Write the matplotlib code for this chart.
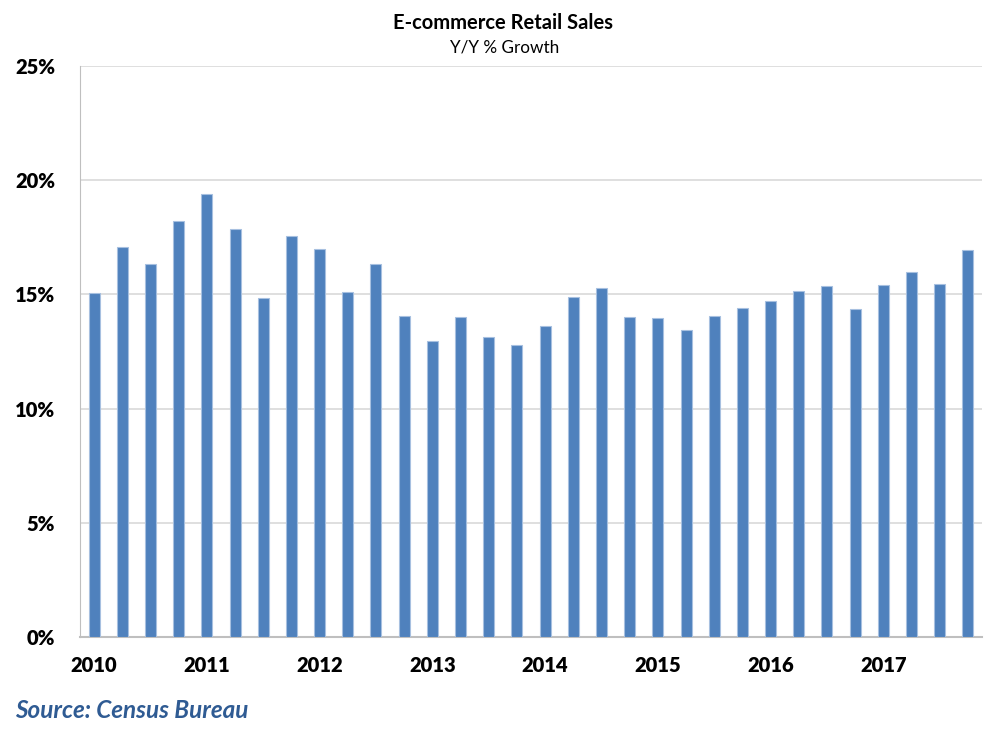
import matplotlib
matplotlib.use("Agg")
import matplotlib.pyplot as plt
import numpy as np

plt.rcParams["font.family"] = ["Lato", "DejaVu Sans"]

# quarterly y/y growth, 2010 Q1 .. 2017 Q4 (percent)
growth = [15.06, 17.07, 16.33, 18.23,
          19.38, 17.86, 14.86, 17.55,
          17.00, 15.10, 16.35, 14.04,
          12.98, 14.03, 13.12, 12.77,
          13.63, 14.87, 15.30, 14.03,
          13.95, 13.44, 14.06, 14.41,
          14.73, 15.15, 15.36, 14.38,
          15.40, 15.98, 15.44, 16.93]
years = ["2010", "2011", "2012", "2013", "2014", "2015", "2016", "2017"]
y_ticks = [0, 5, 10, 15, 20, 25]

bar_color = "#4f81bd"
grid_color = "#d9d9d9"

fig = plt.figure(figsize=(10, 7.39), dpi=100)
ax = fig.add_axes([0.08, 0.138, 0.902, 0.7727])

x = np.arange(len(growth))
ax.bar(x, growth, width=0.39, color=bar_color, edgecolor="#a7c0e0",
       linewidth=0.8, zorder=3)

ax.set_xlim(-0.5, len(growth) - 0.5)
ax.set_ylim(0, 25)
ax.set_yticks(y_ticks)
ax.set_yticklabels([f"{t}%" for t in y_ticks], fontsize=14.5, fontweight="heavy")
ax.set_xticks(x[::4])
ax.set_xticklabels(years, fontsize=14.5, fontweight="heavy")
ax.tick_params(axis="both", length=0)
ax.tick_params(axis="y", pad=18)
ax.tick_params(axis="x", pad=14)

ax.yaxis.grid(True, color=grid_color, linewidth=1.2, zorder=0)
ax.set_axisbelow(True)
for side in ["top", "right"]:
    ax.spines[side].set_visible(False)
ax.spines["left"].set_color("#bfbfbf")
ax.spines["bottom"].set_color("#bfbfbf")
ax.spines["bottom"].set_linewidth(1.5)

fig.text(0.503, 0.969, "E-commerce Retail Sales", ha="center", va="center",
         fontsize=14.5, fontweight="bold")
fig.text(0.505, 0.936, "Y/Y % Growth", ha="center", va="center", fontsize=12.3)
fig.text(0.015, 0.038, "Source: Census Bureau", ha="left", va="center",
         fontsize=17.5, fontweight="bold", style="italic", color="#2f5b93")

fig.savefig("out.png", dpi=100)
